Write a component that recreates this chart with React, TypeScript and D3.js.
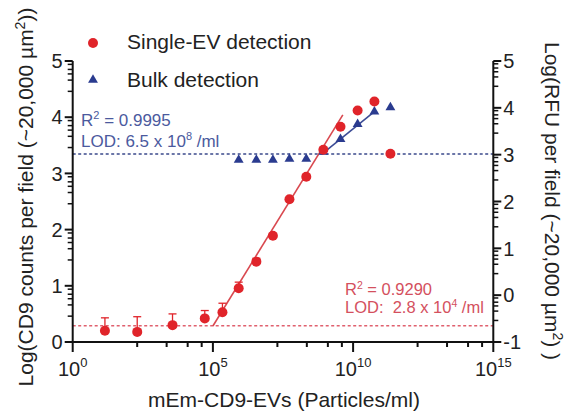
import React from 'react';
import * as d3 from 'd3';

// single-EV detection (left axis)
const evConc = [14.1, 200, 3630, 51300, 218800, 832000, 3.55e6, 1.38e7, 5.37e7, 2.14e8, 8.7e8, 3.55e9, 1.45e10, 5.75e10, 2.14e11];
const evLog = [0.2, 0.18, 0.3, 0.42, 0.53, 0.955, 1.43, 1.89, 2.54, 2.94, 3.42, 3.83, 4.12, 4.28, 3.35];
const evErr = [0.23, 0.27, 0.2, 0.14, 0.16, 0.11, 0.06, 0.04, 0, 0, 0, 0, 0, 0, 0];

// bulk detection (right axis)
const bulkConc = [8.32e5, 3.55e6, 1.38e7, 5.37e7, 2.14e8, 8.7e8, 3.55e9, 1.45e10, 5.75e10, 2.14e11];
const bulkLog = [2.89, 2.89, 2.89, 2.91, 2.91, 3.06, 3.33, 3.65, 3.92, 4.01];

// linear fits and limits of detection
const evFitX = [1e5, 4.3e9];
const evFitY = [0.285, 4.04];
const bulkFitX = [8.7e8, 5.75e10];
const bulkFitY = [3.04, 3.92];
const evLod = 0.29;
const bulkLod = 3.015;

const xTicks = [0, 5, 10, 15];
const xMinorOffsets = [2.3, 3.35, 4.1, 4.6];
const leftTicks = [0, 1, 2, 3, 4, 5];
const rightTicks = [-1, 0, 1, 2, 3, 4, 5];
const yMinorFractions = [0.46, 0.66, 0.77, 0.85, 0.94];

const RED = '#e0242a';
const RED_TXT = '#d4505e';
const BLUE = '#2a3b8f';
const BLUE_TXT = '#4b5a9e';
const FONT = 'Liberation Sans, Arial, sans-serif';

export default function App() {
  const x = d3.scaleLog().domain([1, 1e15]).range([72.7, 493.3]);
  const yL = d3.scaleLinear().domain([0, 5]).range([342, 61]);
  const yR = d3.scaleLinear().domain([-1, 5]).range([342, 61]);

  const tri = d3.symbol().type(d3.symbolTriangle).size(42)();
  const line = (xs: number[], ys: number[], y: any) =>
    d3.line<number>().x((_, i) => x(xs[i])).y((d) => y(d))(ys) as string;

  const xMinor: number[] = [];
  for (let i = 0; i < xTicks.length - 1; i++)
    xMinorOffsets.forEach((o) => xMinor.push(Math.pow(10, xTicks[i] + o)));
  const minorOf = (ticks: number[]) => {
    const out: number[] = [];
    for (let i = 0; i < ticks.length - 1; i++)
      yMinorFractions.forEach((f) => out.push(ticks[i] + f));
    return out;
  };

  const [x0, x1] = x.range();

  return (
    <svg width={574} height={416} style={{ position: 'absolute', left: 0, top: 0, background: '#fff' }} fontFamily={FONT}>
      {/* LOD lines */}
      <line x1={x0} x2={x1} y1={yL(evLod)} y2={yL(evLod)} stroke="#e0606e" strokeWidth={1.6} strokeDasharray="3,2.5" />
      <line x1={x0} x2={x1} y1={yR(bulkLod)} y2={yR(bulkLod)} stroke="#3b4a8c" strokeWidth={1.6} strokeDasharray="3,2.5" />

      {/* fits */}
      <path d={line(evFitX, evFitY, yL)} stroke="#d9484f" strokeWidth={1.6} fill="none" />
      <path d={line(bulkFitX, bulkFitY, yR)} stroke="#3c4c96" strokeWidth={1.6} fill="none" />

      {/* error bars */}
      {evConc.map((c, i) =>
        evErr[i] > 0 ? (
          <g key={'e' + i} stroke={RED} strokeWidth={1.3}>
            <line x1={x(c)} x2={x(c)} y1={yL(evLog[i])} y2={yL(evLog[i] + evErr[i])} />
            <line x1={x(c) - 4} x2={x(c) + 4} y1={yL(evLog[i] + evErr[i])} y2={yL(evLog[i] + evErr[i])} />
          </g>
        ) : null
      )}

      {/* points */}
      {bulkConc.map((c, i) => (
        <path key={'b' + i} d={tri} transform={`translate(${x(c)},${yR(bulkLog[i])})`} fill={BLUE} />
      ))}
      {evConc.map((c, i) => (
        <circle key={'c' + i} cx={x(c)} cy={yL(evLog[i])} r={5} fill={RED} />
      ))}

      {/* axes */}
      <g stroke="#111" strokeWidth={2} fill="none">
        <line x1={x0} x2={x0} y1={yL(0) + 1} y2={yL(5)} />
        <line x1={x1} x2={x1} y1={yR(-1) + 1} y2={yR(5)} />
        <line x1={x0 - 1} x2={x1 + 1} y1={yL(0)} y2={yL(0)} />
        {leftTicks.map((t) => (
          <line key={'lt' + t} x1={x0 - 8} x2={x0} y1={yL(t)} y2={yL(t)} />
        ))}
        {minorOf(leftTicks).map((t, i) => (
          <line key={'lm' + i} x1={x0 - 5} x2={x0} y1={yL(t)} y2={yL(t)} strokeWidth={1.5} />
        ))}
        {rightTicks.map((t) => (
          <line key={'rt' + t} x1={x1} x2={x1 + 8} y1={yR(t)} y2={yR(t)} />
        ))}
        {minorOf(rightTicks).map((t, i) => (
          <line key={'rm' + i} x1={x1} x2={x1 + 5} y1={yR(t)} y2={yR(t)} strokeWidth={1.5} />
        ))}
        {xTicks.map((t) => (
          <line key={'xt' + t} x1={x(Math.pow(10, t))} x2={x(Math.pow(10, t))} y1={yL(0)} y2={yL(0) + 10} />
        ))}
        {xMinor.map((v, i) => (
          <line key={'xm' + i} x1={x(v)} x2={x(v)} y1={yL(0)} y2={yL(0) + 5} />
        ))}
      </g>

      {/* tick labels */}
      <g fontSize={20} fill="#222">
        {leftTicks.map((t) => (
          <text key={'ll' + t} x={x0 - 10} y={yL(t)} dy="0.36em" textAnchor="end">{t}</text>
        ))}
        {rightTicks.map((t) => (
          <text key={'rl' + t} x={x1 + 10} y={yR(t)} dy="0.36em" textAnchor="start">{t}</text>
        ))}
        {xTicks.map((t) => (
          <text key={'xl' + t} x={x(Math.pow(10, t))} y={376} textAnchor="middle">
            10<tspan fontSize={13} dy={-9}>{t}</tspan>
          </text>
        ))}
      </g>

      {/* axis titles */}
      <g fontSize={21} fill="#222">
        <text transform="translate(33,197) rotate(-90)" textAnchor="middle">
          Log(CD9 counts per field (~20,000 µm<tspan fontSize={14} dy={-8}>2</tspan><tspan dy={8}>))</tspan>
        </text>
        <text transform="translate(545,201) rotate(90)" textAnchor="middle">
          Log(RFU per field (~20,000 µm<tspan fontSize={14} dy={-8}>2</tspan><tspan dy={8}>) )</tspan>
        </text>
        <text x={284} y={407} textAnchor="middle">mEm-CD9-EVs (Particles/ml)</text>
      </g>

      {/* legend */}
      <circle cx={93} cy={43} r={5} fill={RED} />
      <path d={tri} transform="translate(93,80)" fill={BLUE} />
      <g fontSize={21} fill="#222">
        <text x={127} y={49}>Single-EV detection</text>
        <text x={127} y={87}>Bulk detection</text>
      </g>

      {/* annotations */}
      <g fontSize={17} fill={BLUE_TXT}>
        <text x={81} y={126}>R<tspan fontSize={11} dy={-7}>2</tspan><tspan dy={7}> = 0.9995</tspan></text>
        <text x={81} y={147}>LOD: 6.5 x 10<tspan fontSize={11} dy={-7}>8</tspan><tspan dy={7}> /ml</tspan></text>
      </g>
      <g fontSize={16.5} fill={RED_TXT}>
        <text x={345} y={295}>R<tspan fontSize={10.5} dy={-6.5}>2</tspan><tspan dy={6.5}> = 0.9290</tspan></text>
        <text x={345} y={313} style={{ whiteSpace: 'pre' }}>LOD:  2.8 x 10<tspan fontSize={10.5} dy={-6.5}>4</tspan><tspan dy={6.5}> /ml</tspan></text>
      </g>
    </svg>
  );
}
